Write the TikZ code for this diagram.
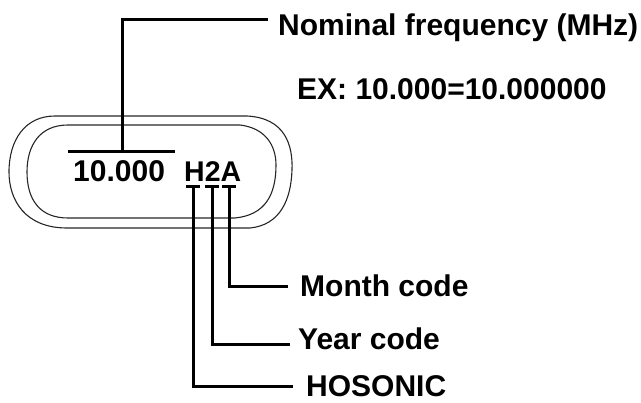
\documentclass[tikz,border=0pt]{standalone}
\usepackage{fontspec}
\setmainfont{Liberation Sans}
\begin{document}
\begin{tikzpicture}[x=1pt,y=-1pt,
  lbl/.style={inner sep=0pt,anchor=base west,font=\fontsize{30}{30}\selectfont\bfseries,text=black},
  lead/.style={line width=3pt,black},
  outline/.style={line width=1.1pt,black!85}]
\useasboundingbox (0,0) rectangle (641,403);
% oval outlines
\draw[outline] (55,116) -- (247,116) .. controls (285,118) and (293,145) .. (292,170)
  .. controls (291,200) and (280,225) .. (250,228) -- (67,228)
  .. controls (25,228) and (9,200) .. (9,172) .. controls (9,140) and (25,116) .. (55,116) -- cycle;
\draw[outline] (68,125) -- (240,125) .. controls (265,128) and (276,145) .. (276,165)
  .. controls (276,195) and (265,215) .. (235,218) -- (68,218)
  .. controls (40,218) and (27,200) .. (27,172) .. controls (27,145) and (40,125) .. (68,125) -- cycle;
% texts
\node[lbl] (nominal) at (278,36) {Nominal frequency (MHz)};
\node[lbl] (ex) at (297,100) {EX: 10.000=10.000000};
\node[lbl] (freq) at (73,182) {10.000};
\node[lbl,font=\fontsize{28.5}{28.5}\selectfont\bfseries] (code) at (184,182) {H2A};
\node[lbl] (month) at (300,297) {Month code};
\node[lbl] (year) at (298,350) {Year code};
\node[lbl] (hosonic) at (306,397) {HOSONIC};
% frequency lead
\coordinate (barL) at (68,152);
\coordinate (barR) at (175,152);
\coordinate (barM) at (122,152);
\coordinate (nfcorner) at (122,20);
\coordinate (nfend) at (266,20);
\draw[lead] (barL) -- (barR);
\draw[lead,line cap=rect] (barM) -- (nfcorner) -- (nfend);
% code leads
\coordinate (hTop) at (193,187);
\coordinate (yTop) at (212,187);
\coordinate (mTop) at (229,187);
\draw[lead] (186,187) -- (200,187);
\draw[lead] (205,187) -- (219,187);
\draw[lead] (222,187) -- (236,187);
\coordinate (mEnd) at (288,287);
\coordinate (yEnd) at (290,345);
\coordinate (hEnd) at (293,387);
\draw[lead] (mTop) |- (mEnd);
\draw[lead] (yTop) |- (yEnd);
\draw[lead] (hTop) |- (hEnd);
\end{tikzpicture}
\end{document}
